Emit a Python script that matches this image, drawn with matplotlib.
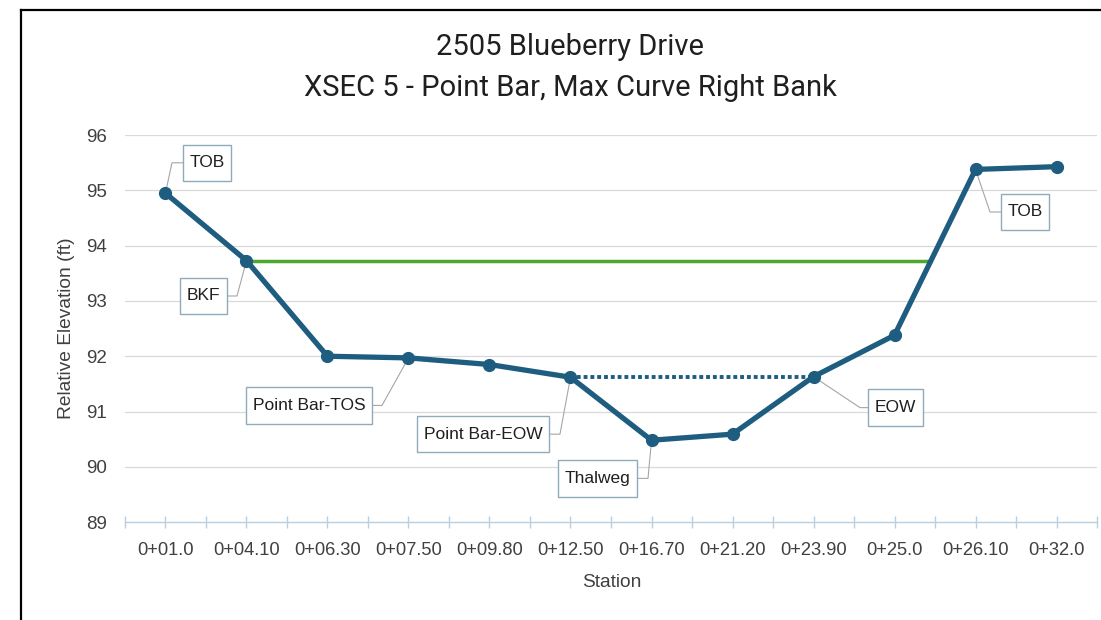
import matplotlib
matplotlib.use("Agg")
import matplotlib.pyplot as plt
from matplotlib.lines import Line2D
from matplotlib.path import Path

# ---------------- data ----------------
stations = ["0+01.0", "0+04.10", "0+06.30", "0+07.50", "0+09.80", "0+12.50",
            "0+16.70", "0+21.20", "0+23.90", "0+25.0", "0+26.10", "0+32.0"]
elevation = [94.95, 93.73, 92.00, 91.97, 91.85, 91.62,
             90.48, 90.59, 91.63, 92.38, 95.38, 95.43]
bankfull_elev = 93.72
bankfull_start = 1          # index of BKF point
bankfull_cross_seg = 9      # profile segment (9 -> 10) where BKF line ends
water_start, water_end = 5, 8   # dotted water surface between these indices
y_ticks = [89, 90, 91, 92, 93, 94, 95, 96]

title_lines = ["2505 Blueberry Drive", "XSEC 5 - Point Bar, Max Curve Right Bank"]

# annotations: (point index, text, box edge x, box center y, elbow x, side)
labels = [
    (0, "TOB", 0.216, 95.50, 0.080, "left"),
    (1, "BKF", 0.759, 93.09, 0.883, "right"),
    (3, "Point Bar-TOS", 2.549, 91.11, 2.673, "right"),
    (5, "Point Bar-EOW", 4.735, 90.59, 4.870, "right"),
    (6, "Thalweg", 5.821, 89.79, 5.957, "right"),
    (8, "EOW", 8.673, 91.07, 8.574, "left"),
    (10, "TOB", 10.315, 94.61, 10.179, "left"),
]

# ---------------- style ----------------
LINE_C = "#1e5d7f"
GREEN = "#4ea72e"
GRID_C = "#d9d9d9"
AXIS_C = "#b9cfe0"
TEXT_C = "#404040"
TICK_FONT = ["Liberation Sans", "DejaVu Sans"]
TITLE_FONT = ["Roboto", "DejaVu Sans"]

PADX = 0.38
PADY = 0.62


def label_box(x0, y0, width, height, mutation_size):
    px = PADX * mutation_size
    py = PADY * mutation_size
    xa, xb = x0 - px, x0 + width + px
    ya, yb = y0 - py, y0 + height + py
    return Path([(xa, ya), (xb, ya), (xb, yb), (xa, yb), (xa, ya)], closed=True)


fig = plt.figure(figsize=(11.01, 6.20), dpi=100)
ax = fig.add_axes([0.1135, 0.158, 0.8829, 0.624])

x = list(range(len(stations)))

# gridlines
for yv in y_ticks[1:]:
    ax.axhline(yv, color=GRID_C, lw=0.9, zorder=0)

# bankfull line
y0, y1 = elevation[bankfull_cross_seg], elevation[bankfull_cross_seg + 1]
x_end = bankfull_cross_seg + (bankfull_elev - y0) / (y1 - y0)
ax.plot([bankfull_start, x_end], [bankfull_elev, bankfull_elev],
        color=GREEN, lw=2.5, solid_capstyle="butt", zorder=2)

# water surface dotted
ws = (elevation[water_start] + elevation[water_end]) / 2
ax.plot([water_start, water_end], [ws, ws], color=LINE_C, lw=2.8,
        linestyle=(0, (1, 0.75)), zorder=2)

# profile
ax.plot(x, elevation, color=LINE_C, lw=3.8, marker="o", markersize=8.5,
        solid_joinstyle="round", zorder=3)

# annotations
fs_ann = 12.5
for idx, txt, bx, by, ex, side in labels:
    ax.plot([bx, ex, idx], [by, by, elevation[idx]], color="#a6a6a6",
            lw=0.8, zorder=2.5)
    off = PADX * fs_ann
    if side == "left":
        ha, dx = "left", off
    else:
        ha, dx = "right", -off
    ax.annotate(txt, xy=(bx, by), xycoords="data", xytext=(dx, 0),
                textcoords="offset points", ha=ha, va="center",
                fontsize=fs_ann, family=TICK_FONT, color="#1f1f1f",
                bbox=dict(boxstyle=label_box, fc="white",
                          ec="#8eaabb", lw=1.0), zorder=4)

# axes formatting
ax.set_xlim(-0.5, len(stations) - 0.5)
ax.set_ylim(89, 96)
ax.set_yticks(y_ticks)
ax.set_yticklabels([str(v) for v in y_ticks])
ax.set_xticks(x)
ax.set_xticklabels(stations)
ax.set_xticks([i - 0.5 for i in range(len(stations) + 1)], minor=True)
for s in ["top", "right", "left"]:
    ax.spines[s].set_visible(False)
ax.spines["bottom"].set_color(AXIS_C)
ax.spines["bottom"].set_linewidth(1.0)
ax.tick_params(axis="x", which="both", direction="inout", length=9,
               color=AXIS_C, width=1.0)
ax.tick_params(axis="x", which="major", pad=10, labelsize=13.2, labelcolor=TEXT_C)
ax.tick_params(axis="y", length=0, pad=13, labelsize=13.5, labelcolor=TEXT_C)
for lab in ax.get_xticklabels() + ax.get_yticklabels():
    lab.set_family(TICK_FONT)

# axis titles
fig.text(0.060, 0.471, "Relative Elevation (ft)", rotation=90, ha="center",
         va="center", fontsize=13.8, color=TEXT_C, family=TICK_FONT)
fig.text(0.556, 0.061, "Station", ha="center", va="center", fontsize=13.8,
         color=TEXT_C, family=TICK_FONT)

# title
fig.text(0.5177, 0.924, title_lines[0], ha="center", va="center",
         fontsize=21, color="#1f1f1f", family=TITLE_FONT)
fig.text(0.5177, 0.858, title_lines[1], ha="center", va="center",
         fontsize=21, color="#1f1f1f", family=TITLE_FONT)

# chart border (top & left visible)
fig.add_artist(Line2D([21 / 1101, 1.0], [1 - 10 / 620, 1 - 10 / 620],
                      transform=fig.transFigure, color="black", lw=1.6))
fig.add_artist(Line2D([21 / 1101, 21 / 1101], [0.0, 1 - 10 / 620],
                      transform=fig.transFigure, color="black", lw=1.6))

fig.savefig("out.png", dpi=100, facecolor="white")
